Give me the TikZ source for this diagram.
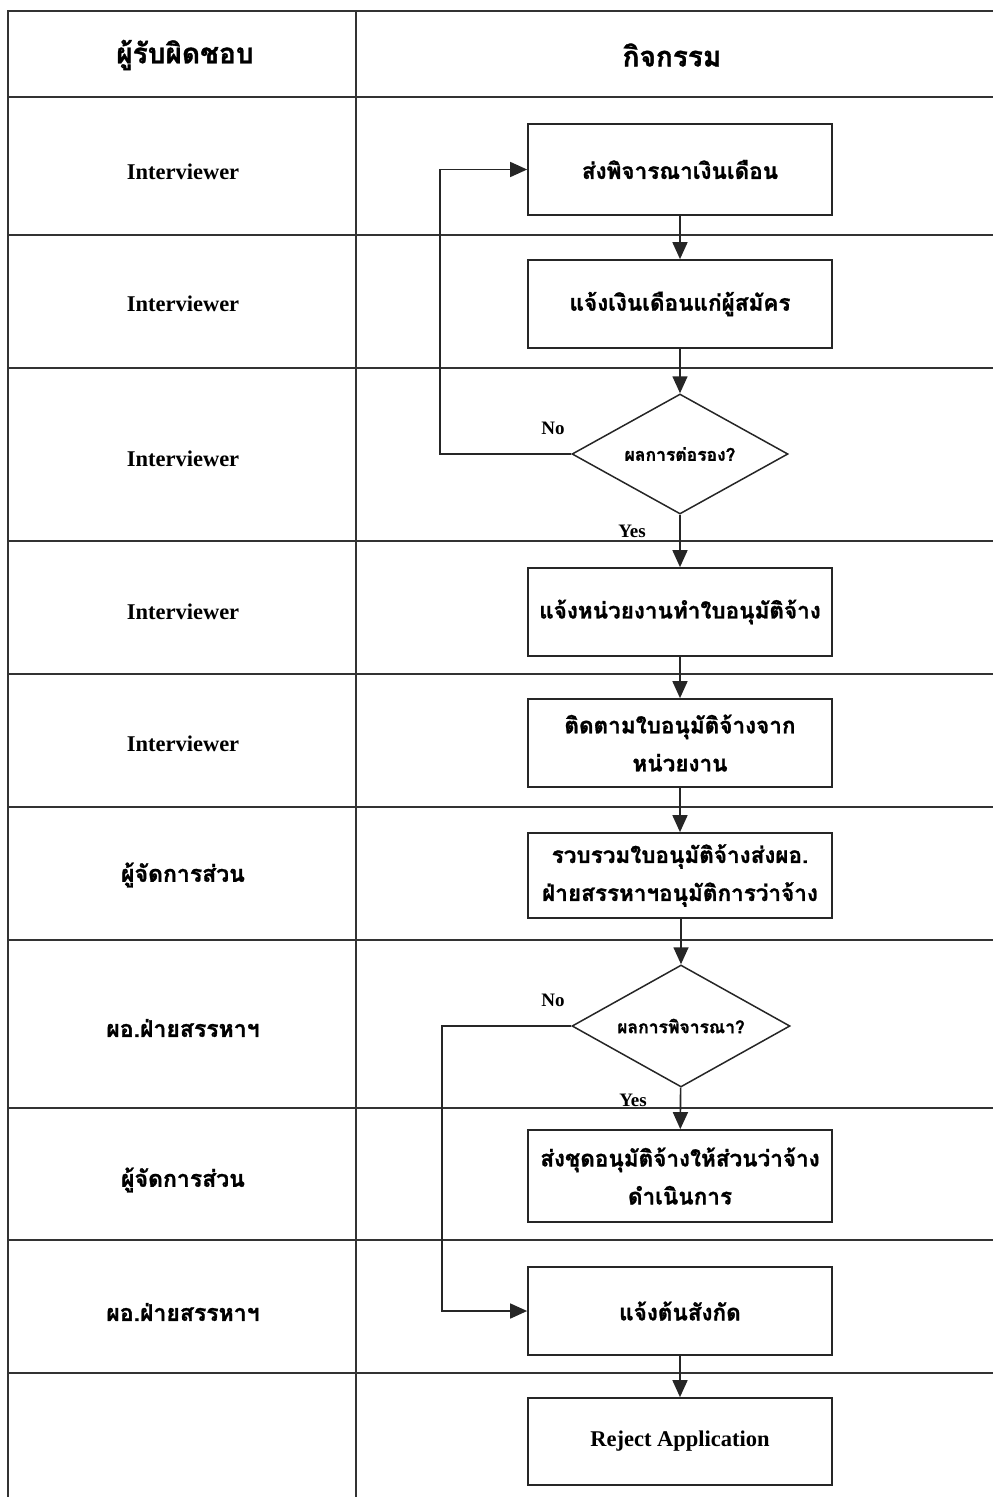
\documentclass[tikz,border=0pt]{standalone}
\usepackage{fontspec}
\setmainfont{Liberation Serif}
\newfontfamily\thaifont[Script=Thai,BoldFeatures={FakeBold=1.2}]{Loma}
\usetikzlibrary{shapes.geometric,arrows.meta}
\begin{document}
\begin{tikzpicture}[x=1pt,y=-1pt,
 grid/.style={line width=1.7pt, draw=black!80},
 stepbox/.style={draw=black!85,line width=1.7pt,minimum width=304pt,minimum height=88pt,inner sep=2pt,align=center,font=\thaifont\bfseries\fontsize{22.5}{38}\selectfont},
 dec/.style={diamond,draw=black!85,line width=1.5pt,minimum width=216pt,minimum height=120pt,inner sep=0pt,aspect=1.8,font=\thaifont\bfseries\fontsize{17.5}{20}\selectfont},
 role/.style={font=\bfseries\fontsize{22.5}{24}\selectfont},
 roleth/.style={font=\thaifont\bfseries\fontsize{23}{26}\selectfont},
 headth/.style={font=\thaifont\bfseries\fontsize{28}{30}\selectfont},
 arr/.style={draw=black!85,-{Triangle[length=17pt,width=15pt]}, line width=1.6pt},
 lbl/.style={font=\bfseries\fontsize{19}{21}\selectfont, inner sep=1pt},
 yeslbl/.style={lbl, fill=white, inner xsep=3pt}
]
\useasboundingbox (0,0) rectangle (993,1497);
% table
\draw[grid] (993,11) -- (8,11) -- (8,1497);
\draw[grid] (356,11) -- (356,1497);
\foreach \y in {97,235,368,541,674,807,940,1108,1240,1373}
  \draw[grid] (8,\y) -- (993,\y);
% headers
\node[headth] (h1) at (185,55) {ผู้รับผิดชอบ};
\node[headth] (h2) at (672,55) {กิจกรรม};
% roles
\node[role] (r1) at (183,172) {Interviewer};
\node[role] (r2) at (183,304) {Interviewer};
\node[role] (r3) at (183,459) {Interviewer};
\node[role] (r4) at (183,612) {Interviewer};
\node[role] (r5) at (183,744) {Interviewer};
\node[roleth] (r6) at (183,875) {ผู้จัดการส่วน};
\node[roleth] (r7) at (183,1028) {ผอ.ฝ่ายสรรหาฯ};
\node[roleth] (r8) at (183,1180) {ผู้จัดการส่วน};
\node[roleth] (r9) at (183,1312) {ผอ.ฝ่ายสรรหาฯ};
% activities
\node[stepbox, minimum height=91pt] (b1) at (680,169.5) {ส่งพิจารณาเงินเดือน};
\node[stepbox] (b2) at (680,304) {แจ้งเงินเดือนแก่ผู้สมัคร};
\node[dec] (d1) at (680,454) {ผลการต่อรอง?};
\node[stepbox] (b3) at (680,612) {แจ้งหน่วยงานทำใบอนุมัติจ้าง};
\node[stepbox] (b4) at (680,743) {ติดตามใบอนุมัติจ้างจาก\\หน่วยงาน};
\node[stepbox, minimum height=85pt] (b5) at (680,875.5) {รวบรวมใบอนุมัติจ้างส่งผอ.\\ฝ่ายสรรหาฯอนุมัติการว่าจ้าง};
\node[dec, minimum width=218pt, minimum height=122pt] (d2) at (681,1026) {ผลการพิจารณา?};
\node[stepbox, minimum height=92pt] (b6) at (680,1176) {ส่งชุดอนุมัติจ้างให้ส่วนว่าจ้าง\\ดำเนินการ};
\node[stepbox] (b7) at (680,1311) {แจ้งต้นสังกัด};
\node[stepbox, minimum height=87pt, font=\bfseries\fontsize{22.5}{24}\selectfont] (b8) at (680,1441.5) {Reject Application};
% connectors
\draw[arr] (b1) -- (b2);
\draw[arr] (b2) -- (d1);
\draw[arr] (d1) -- (b3);
\draw[arr] (b3) -- (b4);
\draw[arr] (b4) -- (b5);
\draw[arr] (b5.south -| d2.north) -- (d2.north);
\draw[arr] (d2) -- (b6);
\draw[arr] (b7) -- (b8);
\draw[arr] (d1.west) -- ++(-131,0) |- (b1.west);
\draw[arr] (d2.west) -- ++(-129,0) |- (b7.west);
% labels
\node[lbl] (no1) at (553,428) {No};
\node[yeslbl] (yes1) at (632,531) {Yes};
\node[lbl] (no2) at (553,1000) {No};
\node[yeslbl] (yes2) at (633,1100) {Yes};
\end{tikzpicture}
\end{document}
